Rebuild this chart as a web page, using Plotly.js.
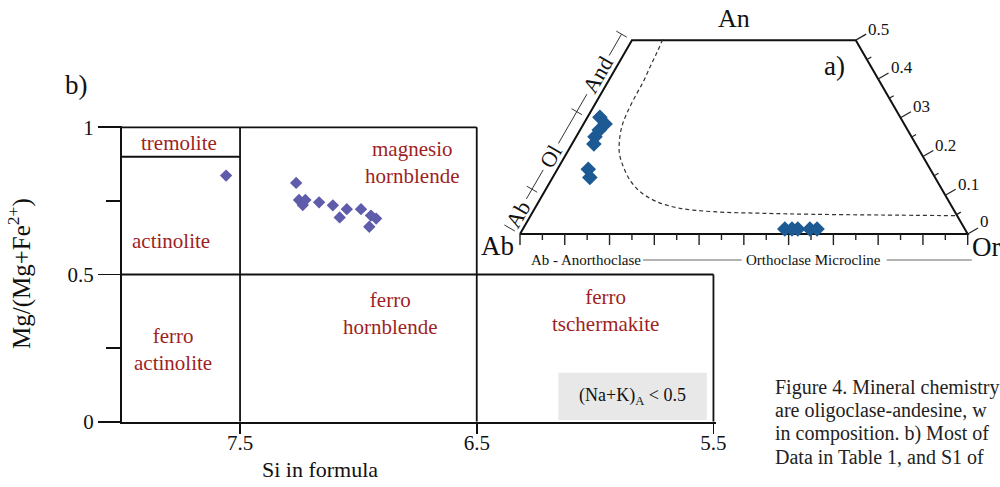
<!DOCTYPE html>
<html><head><meta charset="utf-8">
<script src="https://cdn.plot.ly/plotly-3.0.1.min.js"></script>
<style>html,body{margin:0;padding:0;background:#fff;}#chart{width:1000px;height:487px;}</style>
</head><body><div id="chart"></div>
<script>
// ===== b) amphibole classification (Leake) =====
const amphSi = [7.559, 7.263, 7.251, 7.224, 7.235, 7.166, 7.108, 7.049, 7.079, 6.989, 6.947, 6.925, 6.954];
const amphMg = [0.836, 0.811, 0.753, 0.753, 0.736, 0.745, 0.735, 0.722, 0.694, 0.722, 0.700, 0.690, 0.662];
const bYTicks = [0, 0.5, 1];
const bYTickText = ['0', '0.5', '1'];
const bYMinor = [0.25, 0.75];
const bXTicks = [7.5, 6.5, 5.5];
const bXTickText = ['7.5', '6.5', '5.5'];
// field boundary segments (Si pairs, Mg pairs)
const fieldLineSi = [[8, 6.5], [8, 7.5], [8, 5.5], [7.5, 7.5], [6.5, 6.5], [5.5, 5.5]];
const fieldLineMg = [[1, 1], [0.9, 0.9], [0.5, 0.5], [0, 1], [0, 1], [0, 0.5]];
const fieldNames = ['tremolite', 'actinolite', 'magnesio<br>hornblende', 'ferro<br>actinolite', 'ferro<br>hornblende', 'ferro<br>tschermakite'];
const fieldSi = [7.756, 7.793, 6.772, 7.785, 6.868, 5.958];
const fieldMg = [0.948, 0.615, 0.879, 0.244, 0.366, 0.378];

// ===== a) feldspar ternary (Ab-An-Or, An <= 0.5) =====
const plagAn = [0.301, 0.284, 0.268, 0.251, 0.232, 0.167, 0.146];
const plagOr = [0.028, 0.048, 0.043, 0.042, 0.049, 0.069, 0.083];
const kfsAn = [0.013, 0.013, 0.013, 0.013, 0.013];
const kfsOr = [0.585, 0.601, 0.614, 0.641, 0.657];
const solvusAn = [0.502, 0.466, 0.4315, 0.393, 0.354, 0.311, 0.2768, 0.2425, 0.208, 0.1736, 0.139, 0.109, 0.0833, 0.0663, 0.0575, 0.0534, 0.0508, 0.049, 0.0472];
const solvusOr = [0.068, 0.072, 0.075, 0.079, 0.080, 0.083, 0.089, 0.101, 0.118, 0.144, 0.176, 0.214, 0.264, 0.324, 0.403, 0.517, 0.630, 0.780, 0.955];
const anTicks = [0, 0.1, 0.2, 0.3, 0.4, 0.5];
const anTickText = ['0', '0.1', '0.2', '03', '0.4', '0.5'];
const plagNames = ['Ab', 'Ol', 'And'];
const plagBounds = [0, 0.1, 0.3, 0.5];
const plagLabelAn = [0.036, 0.184, 0.395];
const kfsNames = ['Ab - Anorthoclase', 'Orthoclase Microcline'];
const kfsNameX = [0.1474, 0.6545];
const kfsRuleX = [[0.2747, 0.4952], [0.819, 1.009]];

// ===== page geometry =====
const W = 1000, H = 487;
const pxX = x => x / W;
const pxY = y => 1 - y / H;
const SERIF = 'Liberation Serif, Times New Roman, serif';
const RED = '#9e1f24';
const INK = '#111111';

// b) frame
const B_LEFT = 121.7, B_SI = 236.7, B_Y0 = 421.7, B_MG = 294.4;
const bXRange = [8, 5.49];
const bYRange = [0, 1.006];
const bDomX = [pxX(B_LEFT), pxX(B_LEFT + (8 - 5.49) * B_SI)];
const bDomY = [pxY(B_Y0), pxY(B_Y0 - 1.006 * B_MG)];

// a) frame
const T_AB_X = 520, T_BASE_Y = 234, T_U = 447.7;
const tRangeX = [(480 - T_AB_X) / T_U, (1000 - T_AB_X) / T_U];
const tRangeY = [(T_BASE_Y - 282) / T_U, T_BASE_Y / T_U];
const tDomX = [0.48, 1];
const tDomY = [pxY(282), 1];
const S3 = Math.sqrt(3) / 2;
const tx = (an, or) => or + an / 2;
const ty = an => an * S3;
const L = p => p / T_U;

const traces = [];

// b) field boundaries
const fbx = [], fby = [];
fieldLineSi.forEach((s, i) => { fbx.push(s[0], s[1], null); fby.push(fieldLineMg[i][0], fieldLineMg[i][1], null); });
traces.push({x: fbx, y: fby, xaxis: 'x', yaxis: 'y', mode: 'lines', line: {color: INK, width: 1.8}, hoverinfo: 'skip', showlegend: false});
traces.push({x: amphSi, y: amphMg, xaxis: 'x', yaxis: 'y', mode: 'markers', marker: {symbol: 'diamond', size: 9.5, color: '#5e5cab', line: {width: 0}}, showlegend: false, cliponaxis: false});

// a) frame
const frameAn = [0, 0, 0.5, 0.5, 0];
const frameOr = [0, 1, 0.5, 0, 0];
traces.push({x: frameAn.map((a, i) => tx(a, frameOr[i])), y: frameAn.map(ty), xaxis: 'x2', yaxis: 'y2', mode: 'lines', line: {color: INK, width: 2}, hoverinfo: 'skip', showlegend: false});

// bottom ticks
const btx = [], bty = [];
for (let i = 0; i <= 20; i++) {
  const o = i * 0.05, len = (i % 2 === 0) ? 11 : 6;
  btx.push(tx(0, o), tx(0, o), null); bty.push(0, -L(len), null);
}
traces.push({x: btx, y: bty, xaxis: 'x2', yaxis: 'y2', mode: 'lines', line: {color: '#222', width: 1.4}, hoverinfo: 'skip', showlegend: false});

// right-edge An ticks
const rtx = [], rty = [];
for (let i = 0; i <= 10; i++) {
  const a = i * 0.05, len = (i % 2 === 0) ? 12 : 5;
  const x0 = tx(a, 1 - a), y0 = ty(a);
  rtx.push(x0, x0 + L(len) * 0.866, null); rty.push(y0, y0 + L(len) * 0.5, null);
}
traces.push({x: rtx, y: rty, xaxis: 'x2', yaxis: 'y2', mode: 'lines', line: {color: '#222', width: 1.2}, hoverinfo: 'skip', showlegend: false});

// left bracket (plagioclase names)
const OFF = 12;
const bpt = (a, off) => [tx(a, 0) - L(off) * 0.866, ty(a) + L(off) * 0.5];
const blx = [], bly = [];
const segs = [[0.075, 0.15], [0.218, 0.345], [0.445, 0.5]];
segs.forEach(s => { const p = bpt(s[0], OFF), q = bpt(s[1], OFF); blx.push(p[0], q[0], null); bly.push(p[1], q[1], null); });
plagBounds.forEach(a => { const p = bpt(a, 6), q = bpt(a, 18); blx.push(p[0], q[0], null); bly.push(p[1], q[1], null); });
traces.push({x: blx, y: bly, xaxis: 'x2', yaxis: 'y2', mode: 'lines', line: {color: '#333', width: 1}, hoverinfo: 'skip', showlegend: false});

// solvus (dashed)
traces.push({x: solvusAn.map((a, i) => tx(a, solvusOr[i])), y: solvusAn.map(ty), xaxis: 'x2', yaxis: 'y2', mode: 'lines', line: {color: '#333', width: 1.2, dash: '4px,3px', shape: 'spline'}, hoverinfo: 'skip', showlegend: false});

// K-feldspar name rules
const kx = [], ky = [];
kfsRuleX.forEach(r => { kx.push(r[0], r[1], null); ky.push(-L(26), -L(26), null); });
traces.push({x: kx, y: ky, xaxis: 'x2', yaxis: 'y2', mode: 'lines', line: {color: '#666', width: 1}, hoverinfo: 'skip', showlegend: false});

// feldspar points
traces.push({x: plagAn.map((a, i) => tx(a, plagOr[i])), y: plagAn.map(ty), xaxis: 'x2', yaxis: 'y2', mode: 'markers', marker: {symbol: 'diamond', size: 12, color: '#1d5a94', line: {width: 0}}, showlegend: false, cliponaxis: false});
traces.push({x: kfsAn.map((a, i) => tx(a, kfsOr[i])), y: kfsAn.map(ty), xaxis: 'x2', yaxis: 'y2', mode: 'markers', marker: {symbol: 'diamond', size: 12, color: '#1d5a94', line: {width: 0}}, showlegend: false, cliponaxis: false});

// ===== annotations =====
const ann = [];
const A = (o) => Object.assign({showarrow: false, xanchor: 'center', yanchor: 'middle'}, o);
fieldNames.forEach((t, i) => ann.push(A({xref: 'x', yref: 'y', x: fieldSi[i], y: fieldMg[i], text: t, font: {family: SERIF, size: 21, color: RED}, align: 'center'})));
ann.push(A({xref: 'paper', yref: 'paper', x: pxX(320), y: pxY(469), text: 'Si in formula', font: {family: SERIF, size: 22, color: INK}}));
ann.push(A({xref: 'paper', yref: 'paper', x: pxX(76), y: pxY(85), text: 'b)', font: {family: SERIF, size: 27, color: INK}}));
ann.push(A({xref: 'x', yref: 'y', x: 5.84, y: 0.087, text: '(Na+K)<sub>A</sub> < 0.5', font: {family: SERIF, size: 18, color: INK}}));

// ternary labels
ann.push(A({xref: 'paper', yref: 'paper', x: pxX(733.5), y: pxY(19), text: 'An', font: {family: SERIF, size: 26, color: INK}}));
ann.push(A({xref: 'paper', yref: 'paper', x: pxX(834), y: pxY(66), text: 'a)', font: {family: SERIF, size: 27, color: INK}}));
ann.push(A({xref: 'paper', yref: 'paper', x: pxX(497), y: pxY(246), text: 'Ab', font: {family: SERIF, size: 27, color: INK}}));
ann.push(A({xref: 'paper', yref: 'paper', x: pxX(986), y: pxY(247), text: 'Or', font: {family: SERIF, size: 27, color: INK}}));
anTicks.forEach((a, i) => {
  const x0 = tx(a, 1 - a) + L(12) * 0.866, y0 = ty(a) + L(12) * 0.5;
  ann.push(A({xref: 'x2', yref: 'y2', x: x0, y: y0, text: anTickText[i], xanchor: 'left', yshift: i === 0 ? 7 : 5, font: {family: SERIF, size: 17, color: INK}}));
});
plagNames.forEach((t, i) => {
  const p = bpt(plagLabelAn[i], OFF);
  ann.push(A({xref: 'x2', yref: 'y2', x: p[0], y: p[1], text: t, textangle: -60, font: {family: SERIF, size: 22, color: INK}}));
});
kfsNames.forEach((t, i) => ann.push(A({xref: 'x2', yref: 'y2', x: kfsNameX[i], y: -L(26), text: t, font: {family: SERIF, size: 15, color: INK}})));

// caption (cropped at the right edge)
const caption = ['Figure 4. Mineral chemistry', 'are oligoclase-andesine, w', 'in composition. b) Most of', 'Data in Table 1, and S1 of'];
caption.forEach((t, i) => ann.push(A({xref: 'paper', yref: 'paper', x: pxX(773), y: pxY(387 + i * 23.3), xanchor: 'left', text: t, font: {family: SERIF, size: 20, color: '#222'}})));

const layout = {
  width: W, height: H,
  margin: {l: 0, r: 0, t: 0, b: 0},
  paper_bgcolor: '#fff', plot_bgcolor: 'rgba(0,0,0,0)',
  showlegend: false,
  font: {family: SERIF, color: INK},
  xaxis: {domain: bDomX, range: bXRange, anchor: 'y', showgrid: false, zeroline: false,
    showline: true, linecolor: INK, linewidth: 1.8,
    ticks: 'outside', ticklen: 10, tickwidth: 1.8, tickcolor: INK,
    tickmode: 'array', tickvals: bXTicks, ticktext: bXTickText, ticklabelstandoff: -9,
    tickfont: {family: SERIF, size: 21, color: INK}},
  yaxis: {domain: bDomY, range: bYRange, anchor: 'x', showgrid: false, zeroline: false,
    showline: true, linecolor: INK, linewidth: 1.8,
    ticks: 'outside', ticklen: 22, tickwidth: 1.8, tickcolor: INK,
    tickmode: 'array', tickvals: bYTicks, ticktext: bYTickText,
    minor: {tickmode: 'array', tickvals: bYMinor, ticks: 'outside', ticklen: 14, tickwidth: 1.8, tickcolor: INK, showgrid: false},
    tickfont: {family: SERIF, size: 21, color: INK},
    title: {text: 'Mg/(Mg+Fe<sup>2+</sup>)', font: {family: SERIF, size: 25, color: INK}, standoff: 30}},
  xaxis2: {domain: tDomX, range: tRangeX, anchor: 'y2', visible: false, showgrid: false, zeroline: false, fixedrange: true},
  yaxis2: {domain: tDomY, range: tRangeY, anchor: 'x2', visible: false, showgrid: false, zeroline: false, fixedrange: true},
  shapes: [{type: 'rect', xref: 'x', yref: 'y', x0: 6.155, x1: 5.528, y0: 0.006, y1: 0.166, fillcolor: '#e8e8e8', line: {width: 0}, layer: 'below'}],
  annotations: ann
};

Plotly.newPlot('chart', traces, layout, {staticPlot: true, displayModeBar: false});
</script>
</body></html>
